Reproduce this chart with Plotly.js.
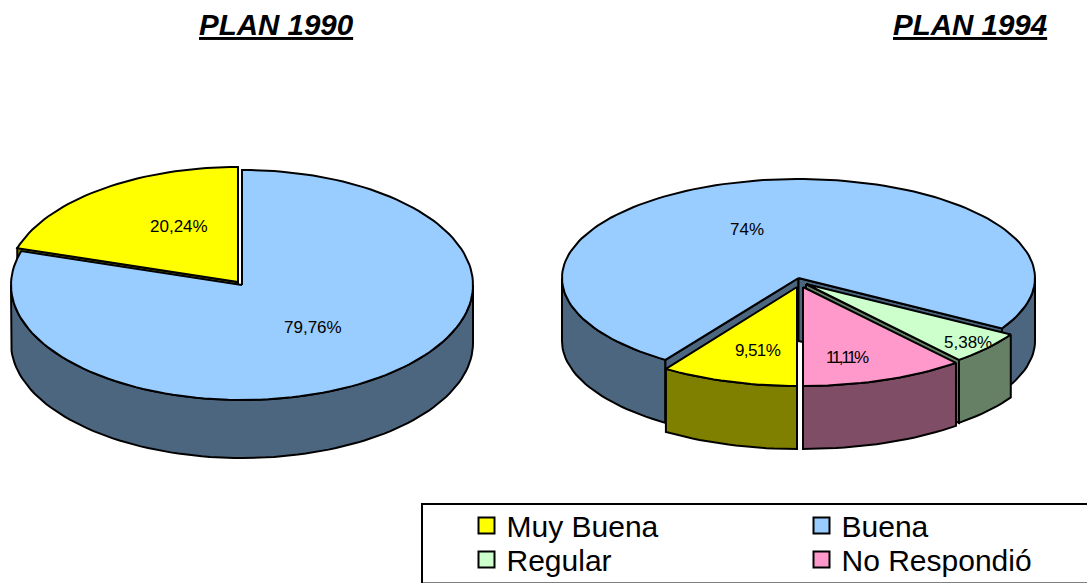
<!DOCTYPE html>
<html><head><meta charset="utf-8">
<script src="https://cdn.plot.ly/plotly-3.0.1.min.js"></script>
<style>html,body{margin:0;padding:0;background:#fff;overflow:hidden}</style>
</head><body><div id="chart" style="width:1087px;height:583px"></div>
<script>
// ---- data ----
const categories = ['Muy Buena','Buena','Regular','No Respondió'];
const plan1990Cats = ['Muy Buena','Buena'];
const plan1990Vals = [20.24,79.76];
const plan1990Text = ['20,24%','79,76%'];
const plan1994Cats = ['Muy Buena','Buena','Regular','No Respondió'];
const plan1994Vals = [9.51,74,5.38,11.11];
const plan1994Text = ['9,51%','74%','5,38%','11,11%'];
const titles = ['PLAN 1990','PLAN 1994'];
// ---- style ----
const FONT = 'Liberation Sans, Arial, sans-serif';
const topColor = {'Muy Buena':'#ffff00','Buena':'#99ccff','Regular':'#ccffcc','No Respondió':'#ff99cc'};
const sideColor = {'Muy Buena':'#808000','Buena':'#4d6680','Regular':'#668066','No Respondió':'#804d66'};
const pie1 = {start:360-20.24*3.6, rx:231, ry:115, d:58, rxOver:{},
  center:{'Muy Buena':[238,282],'Buena':[242,285]}};
const pie2 = {start:180, rx:236.5, ry:99, d:63, rxOver:{'Muy Buena':233,'No Respondió':238,'Regular':238},
  center:{'Muy Buena':[797,287],'Buena':[798.5,278],'Regular':[806,284],'No Respondió':[803,287]}};
const labelPos1 = [[179,226],[313,327]];
const labelPos2 = [[758,350],[747,229],[968,342],[847,357]];
const tightText = {'11,11%':-2.4,'9,51%':-0.6};
// ---- geometry ----
const rad = a => a*Math.PI/180;
const pt = (c,p,a,dy=0) => [c[0]+p.rx*Math.sin(rad(a)), c[1]-p.ry*Math.cos(rad(a))+dy];
function arc(c,p,a0,a1,dy=0){const n=Math.max(2,Math.ceil(Math.abs(a1-a0)/2));const r=[];
  for(let i=0;i<=n;i++) r.push(pt(c,p,a0+(a1-a0)*i/n,dy)); return r;}
function poly(pts,fill){const xs=pts.map(q=>q[0]),ys=pts.map(q=>q[1]);xs.push(xs[0]);ys.push(ys[0]);
  return {type:'scatter',mode:'lines',x:xs,y:ys,fill:'toself',fillcolor:fill,
    line:{color:'#000',width:2},showlegend:false,hoverinfo:'skip'};}
function slices(cats,vals,p){let a=p.start;return cats.map((n,i)=>{
  const s={name:n,a0:a,a1:a+vals[i]*3.6,c:p.center[n],p:Object.assign({},p,{rx:p.rxOver[n]||p.rx})};a=s.a1;return s;});}
const face = s => poly([s.c,...arc(s.c,s.p,s.a0,s.a1)],topColor[s.name]);
function sides(s){const p=s.p,out=[];for(const k of [-1,0,1]){const lo=Math.max(s.a0,90+360*k),hi=Math.min(s.a1,270+360*k);
  if(hi>lo) out.push(poly([...arc(s.c,p,lo,hi),...arc(s.c,p,hi,lo,p.d)],sideColor[s.name]));}return out;}
function wall(s,a){const t=pt(s.c,s.p,a),d=s.p.d;return poly([s.c,t,[t[0],t[1]+d],[s.c[0],s.c[1]+d]],sideColor[s.name]);}

const s1 = slices(plan1990Cats,plan1990Vals,pie1), s2 = slices(plan1994Cats,plan1994Vals,pie2);
const [y1,b1]=s1, [y2,b2,r2,n2]=s2;
const traces = [
  ...sides(b1), wall(y1,y1.a0), face(b1), face(y1),
  ...sides(b2), wall(b2,b2.a0), wall(b2,b2.a1), face(b2),
  wall(r2,r2.a1), ...sides(r2), face(r2),
  ...sides(n2), face(n2),
  ...sides(y2), face(y2)
];
// legend entries: two rows, each its own native legend
categories.forEach((n,i)=>traces.push({type:'scatter',mode:'markers',x:[null],y:[null],name:n,
  legend:i<2?'legend':'legend2',hoverinfo:'skip',
  marker:{symbol:'square',size:17,color:topColor[n],line:{color:'#000',width:2}}}));

const lab = (t,pos) => ({text:tightText[t]?'<span style="letter-spacing:'+tightText[t]+'px">'+t+'</span>':t,
  x:pos[0],y:pos[1],xref:'x',yref:'y',showarrow:false,
  xanchor:'center',yanchor:'middle',font:{family:FONT,size:17,color:'#000'}});
const ttl = (t,x) => ({text:'<b><i><u>'+t+'</u></i></b>',x:x,y:24,xref:'x',yref:'y',showarrow:false,
  xanchor:'center',yanchor:'middle',font:{family:FONT,size:29.5,color:'#000'}});
const annotations = [ttl(titles[0],276),ttl(titles[1],970)];
plan1990Text.forEach((t,i)=>annotations.push(lab(t,labelPos1[i])));
plan1994Text.forEach((t,i)=>annotations.push(lab(t,labelPos2[i])));

const legendBase = {orientation:'h',xanchor:'left',yanchor:'middle',x:466.5/1087,entrywidth:290,entrywidthmode:'pixels',
  bgcolor:'rgba(0,0,0,0)',borderwidth:0,font:{family:FONT,size:30,color:'#000'}};
const layout = {
  width:1087,height:583,margin:{l:0,r:0,t:0,b:0,autoexpand:false},paper_bgcolor:'#fff',plot_bgcolor:'#fff',
  xaxis:{range:[0,1087],visible:false,fixedrange:true},
  yaxis:{range:[583,0],visible:false,fixedrange:true},
  showlegend:true,
  legend:Object.assign({},legendBase,{y:1-525.5/583}),
  legend2:Object.assign({},legendBase,{y:1-559.5/583}),
  shapes:[{type:'rect',xref:'x',yref:'y',x0:422,x1:1095,y0:504,y1:583.5,line:{color:'#000',width:2},fillcolor:'rgba(0,0,0,0)',layer:'below'}],
  annotations
};
Plotly.newPlot('chart',traces,layout,{displayModeBar:false,staticPlot:true});
</script></body></html>
